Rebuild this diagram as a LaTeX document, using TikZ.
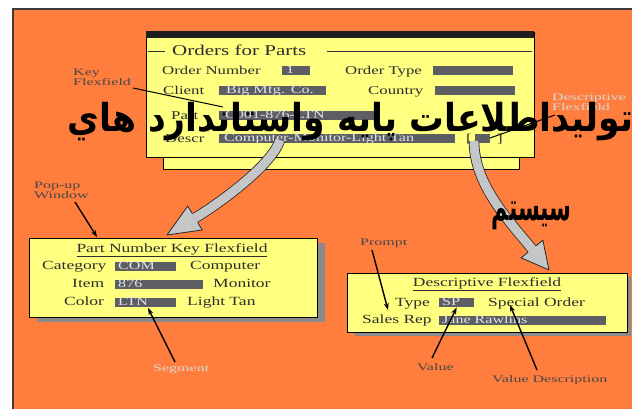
\documentclass[tikz,border=0pt]{standalone}
\usepackage{fontspec}
\setmainfont{Liberation Serif}[FakeStretch=1.4]
\newfontfamily\notefam{Liberation Serif}[FakeStretch=1.6]
\newfontfamily\arabicfont[Script=Arabic, FakeStretch=0.9]{DejaVu Sans}
\TeXXeTstate=1
\usetikzlibrary{arrows.meta,calc}

\definecolor{orangebg}{RGB}{255,126,62}
\definecolor{panelyellow}{RGB}{255,255,128}
\definecolor{fieldgrey}{RGB}{92,94,100}
\definecolor{fieldtext}{RGB}{228,228,232}
\definecolor{labtext}{RGB}{45,45,45}
\definecolor{shadowgrey}{RGB}{138,138,138}
\definecolor{arrowgrey}{RGB}{196,198,200}
\definecolor{notedark}{RGB}{70,70,70}
\definecolor{notelight}{RGB}{215,215,215}
\definecolor{framegrey}{RGB}{60,60,60}

\tikzset{
  win/.style={draw=black, line width=1.4pt, fill=panelyellow, inner sep=0pt, anchor=north west},
  shadowbox/.style={fill=shadowgrey, inner sep=0pt, anchor=north west},
  lab/.style={text=labtext, inner sep=0pt, anchor=base west, font=\fontsize{12}{12}\selectfont},
  plab/.style={lab, font=\fontsize{12.5}{12.5}\selectfont},
  fld/.style={fill=fieldgrey, text=fieldtext, font=\fontsize{11.5}{11.5}\selectfont,
    anchor=north west, inner xsep=0pt, inner ysep=0pt, text width=#1,
    minimum height=9pt, align=left, text height=7.5pt, text depth=1pt},
  note/.style={font=\notefam\fontsize{10}{9.5}\selectfont, text=notedark, inner sep=0pt, align=left},
  ptr/.style={-{Stealth[length=7pt,width=5pt]}, line width=1.4pt, black},
  bigbody/.style={draw=black!85, line width=0.8pt, double=arrowgrey, double distance=9pt},
  arab/.style={font=\arabicfont\bfseries\fontsize{38.5}{38.5}\selectfont, text=black, inner sep=0pt}
}

\begin{document}
\begin{tikzpicture}[x=1pt,y=-1pt]
\useasboundingbox (0,0) rectangle (632,409);
\fill[white] (0,0) rectangle (632,409);
\fill[orangebg] (13,9) rectangle (632,409);
\draw[framegrey, line width=2pt] (13,409) -- (13,9) -- (632,9);

% ---- Orders for Parts window ----
\node[win, minimum width=356pt, minimum height=25pt] (tray) at (163,144) {};
\node[win, minimum width=388pt, minimum height=125pt] (orders) at (146,32) {};
\fill[black!88] (146,31.5) rectangle (534,38.5);
\draw[black!80, line width=1pt] (148,52) -- (165,52) (327,52) -- (532,52);
\node[lab, font=\fontsize{15}{15}\selectfont] (otitle) at (172,56) {Orders for Parts};

\node[lab] (lnum) at (162,74.5) {Order Number};
\node[fld=28pt] (fnum) at (282,66) {\hspace{4pt}1};
\node[lab] (ltype) at (345,74.5) {Order Type};
\node[fld=80pt] (ftype) at (433,66) {};

\node[lab] (lclient) at (163,94.5) {Client};
\node[fld=107pt] (fclient) at (219,86) {\hspace{7pt}Big Mfg. Co.};
\node[lab] (lcountry) at (368,94.5) {Country};
\node[fld=80pt] (fcountry) at (435,86) {};

\node[lab] (lpart) at (171,119.5) {Part};
\node[fld=160pt] (fpart) at (219,111) {\hspace{6pt}C001-876-LTN};

\node[lab] (ldescr) at (165,142.5) {Descr};
\node[fld=236pt] (fdescr) at (219,134) {\hspace{5pt}Computer-Monitor-Light Tan};
\node[lab] (lbr) at (466,142.5) {[};
\node[fld=15pt] (fdff) at (475,134) {};
\node[lab] (rbr) at (497,142.5) {]};

% ---- Part Number Key Flexfield pop-up ----
\node[shadowbox, minimum width=288pt, minimum height=79pt] (popshadow) at (37,243) {};
\node[win, minimum width=288pt, minimum height=79pt] (popup) at (29,238) {};
\node[plab, anchor=base] (ptitle) at (172,252) {\underline{Part Number Key Flexfield}};
\node[plab] (lcat) at (42,269.5) {Category};
\node[fld=61pt] (fcat) at (115,262) {\hspace{3pt}COM};
\node[plab] (dcat) at (190,269.5) {Computer};
\node[plab] (litem) at (72,287.5) {Item};
\node[fld=88pt] (fitem) at (115,280) {\hspace{3pt}876};
\node[plab] (ditem) at (213,287.5) {Monitor};
\node[plab] (lcolor) at (64,305.5) {Color};
\node[fld=61pt] (fcolor) at (115,298) {\hspace{3pt}LTN};
\node[plab] (dcolor) at (187,305.5) {Light Tan};

% ---- Descriptive Flexfield window ----
\node[shadowbox, minimum width=276pt, minimum height=59pt] (dffshadow) at (355,277) {};
\node[win, minimum width=280pt, minimum height=59pt] (dff) at (347,273) {};
\node[plab, anchor=base] (dtitle) at (487,286) {\underline{Descriptive Flexfield}};
\node[plab] (ltypeb) at (395,306) {Type};
\node[fld=35pt] (fsp) at (439,298) {\hspace{3pt}SP};
\node[plab] (dsp) at (488,306) {Special Order};
\node[plab] (lrep) at (362,323) {Sales Rep};
\node[fld=167pt] (frep) at (439,316) {\hspace{3pt}Jane Rawlins};

% ---- grey flow arrows ----
\coordinate (a1s) at (280,140);
\coordinate (a1b) at (195,218);
\coordinate (a1t) at (167,235);
\draw[bigbody] (a1s) .. controls (272,165) and (220,203) .. (a1b);
\path ($(a1b)!14pt!90:(a1t)$) coordinate (a1p) ($(a1b)!14pt!-90:(a1t)$) coordinate (a1q)
      ($(a1b)!5.3pt!90:(a1t)$) coordinate (a1r) ($(a1b)!5.3pt!-90:(a1t)$) coordinate (a1u);
\fill[arrowgrey] (a1p) -- (a1t) -- (a1q) -- cycle;
\draw[black!85, line width=0.8pt, line join=round] (a1r) -- (a1p) -- (a1t) -- (a1q) -- (a1u);

\coordinate (a2s) at (474,141);
\coordinate (a2b) at (532,249);
\coordinate (a2t) at (549,270);
\draw[bigbody] (a2s) .. controls (474,185) and (510,222) .. (a2b);
\path ($(a2b)!14pt!90:(a2t)$) coordinate (a2p) ($(a2b)!14pt!-90:(a2t)$) coordinate (a2q)
      ($(a2b)!5.3pt!90:(a2t)$) coordinate (a2r) ($(a2b)!5.3pt!-90:(a2t)$) coordinate (a2u);
\fill[arrowgrey] (a2p) -- (a2t) -- (a2q) -- cycle;
\draw[black!85, line width=0.8pt, line join=round] (a2r) -- (a2p) -- (a2t) -- (a2q) -- (a2u);

% ---- callout labels ----
\node[note, anchor=north west] (nkey) at (73,69) {Key\\Flexfield};
\node[note, anchor=north west, text=notelight] (ndesc) at (552,94) {Descriptive\\Flexfield};
\node[note, anchor=north west] (npop) at (34,182) {Pop-up\\Window};
\node[note, anchor=base west] (nprompt) at (360,245) {Prompt};
\node[note, anchor=base west] (nvalue) at (417,370) {Value};
\node[note, anchor=base west] (nvdesc) at (492,382) {Value Description};
\node[note, anchor=base west, text=notelight] (nseg) at (153,371) {Segment};

\coordinate (kfs) at (133,88);
\coordinate (kfe) at (223,107);
\draw[black, line width=1pt] (kfs) -- (kfe);
\coordinate (dfs) at (555,115);
\coordinate (dfe) at (490,138);
\draw[black, line width=1pt] (dfs) -- (dfe);
\coordinate (pws) at (75,202);
\draw[ptr] (pws) -- (97,237);
\coordinate (prs) at (372,250);
\draw[ptr] (prs) -- (388,310);
\coordinate (vas) at (432,358);
\draw[ptr] (vas) -- (fsp.south);
\coordinate (vds) at (537,370);
\draw[ptr] (vds) -- (510,305);
\coordinate (sgs) at (175,362);
\draw[ptr] (sgs) -- (148,308);

% ---- Persian heading ----
\node[arab, anchor=base east] (head1) at (634,132) {\beginR توليداطلاعات پايه واستاندارد هاي\endR};
\node[arab, anchor=base east] (head2) at (572,220) {\scalebox{0.64}[1]{\beginR سيستم\endR}};
\end{tikzpicture}
\end{document}
